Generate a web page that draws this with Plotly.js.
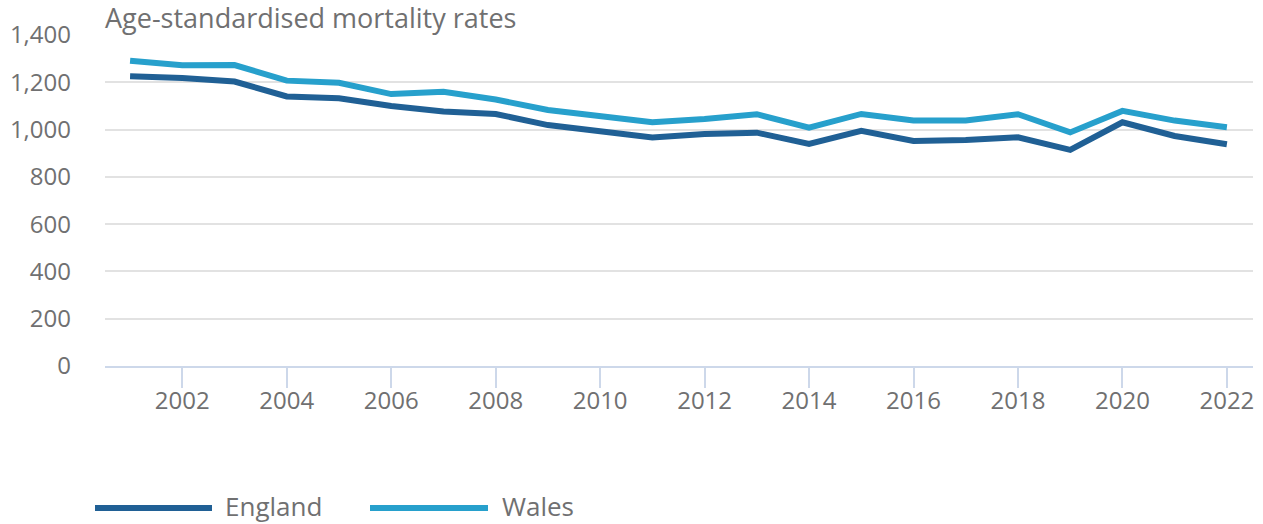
<!DOCTYPE html>
<html>
<head>
<meta charset="utf-8">
<script src="https://cdn.plot.ly/plotly-3.0.1.min.js"></script>
<style>html,body{margin:0;padding:0;background:#fff;}#chart{width:1263px;height:524px;}</style>
</head>
<body>
<div id="chart"></div>
<script>
const years = [2001,2002,2003,2004,2005,2006,2007,2008,2009,2010,2011,2012,2013,2014,2015,2016,2017,2018,2019,2020,2021,2022];
const england = [1226,1218,1203,1140,1132,1100,1076,1066,1019,995,967,981,987,939,995,952,956,967,914,1031,973,938];
const wales = [1291,1272,1273,1207,1198,1150,1160,1127,1083,1055,1031,1045,1065,1008,1066,1038,1038,1065,988,1079,1038,1010];
const seriesNames = ['England','Wales'];
const colors = ['#206095','#27a0cc'];
const yTicks = [0,200,400,600,800,1000,1200,1400];
const yTickText = ['0','200','400','600','800','1,000','1,200','1,400'];
const titleText = 'Age-standardised mortality rates';

const fontFam = '"Open Sans", "Noto Sans", sans-serif';
const grey = '#707071';

const traces = [england, wales].map((vals, i) => ({
  x: years, y: vals, type: 'scatter', mode: 'lines', name: seriesNames[i],
  line: {color: colors[i], width: 6}, showlegend: false, hoverinfo: 'x+y'
}));

// plot area: left 105, right 1253, top 35, bottom 366
const L = 105, R = 1253, T = 35, B = 366;
const px = x => (x - L) / (R - L);
const py = y => (B - y) / (B - T);

const legendItems = [
  {x0: 95, x1: 212, tx: 223},
  {x0: 370, x1: 488, tx: 500}
];
const shapes = legendItems.map((it, i) => ({
  type: 'line', xref: 'paper', yref: 'paper',
  x0: px(it.x0), x1: px(it.x1), y0: py(508), y1: py(508),
  line: {color: colors[i], width: 6}
}));
const annotations = legendItems.map((it, i) => ({
  xref: 'paper', yref: 'paper', x: px(it.tx), y: py(506),
  xanchor: 'left', yanchor: 'middle', showarrow: false,
  text: seriesNames[i], font: {family: fontFam, size: 26, color: grey}
}));

const layout = {
  width: 1263, height: 524,
  margin: {l: L, r: 1263 - R, t: T, b: 524 - B},
  paper_bgcolor: '#fff', plot_bgcolor: '#fff',
  font: {family: fontFam, color: grey},
  title: {
    text: titleText, xref: 'paper', x: 0, xanchor: 'left',
    yref: 'container', y: 1 - 19/524, yanchor: 'middle',
    font: {family: fontFam, size: 27, color: grey}
  },
  xaxis: {
    range: [2000.52, 2022.5], tickmode: 'linear', tick0: 2002, dtick: 2,
    showgrid: false, zeroline: false,
    showline: true, linecolor: '#cdd8ea', linewidth: 2,
    ticks: 'outside', ticklen: 20, tickwidth: 2, tickcolor: '#cdd8ea',
    ticklabelstandoff: -8,
    tickfont: {family: fontFam, size: 24, color: grey}
  },
  yaxis: {
    range: [0, 1400], tickmode: 'array', tickvals: yTicks, ticktext: yTickText,
    showgrid: true, gridcolor: '#e2e2e2', gridwidth: 2, zeroline: false,
    showline: false, ticks: '', ticklabelstandoff: 33,
    tickfont: {family: fontFam, size: 24, color: grey}
  },
  shapes: shapes,
  annotations: annotations,
  showlegend: false
};

Plotly.newPlot('chart', traces, layout, {displayModeBar: false, staticPlot: true});
</script>
</body>
</html>
